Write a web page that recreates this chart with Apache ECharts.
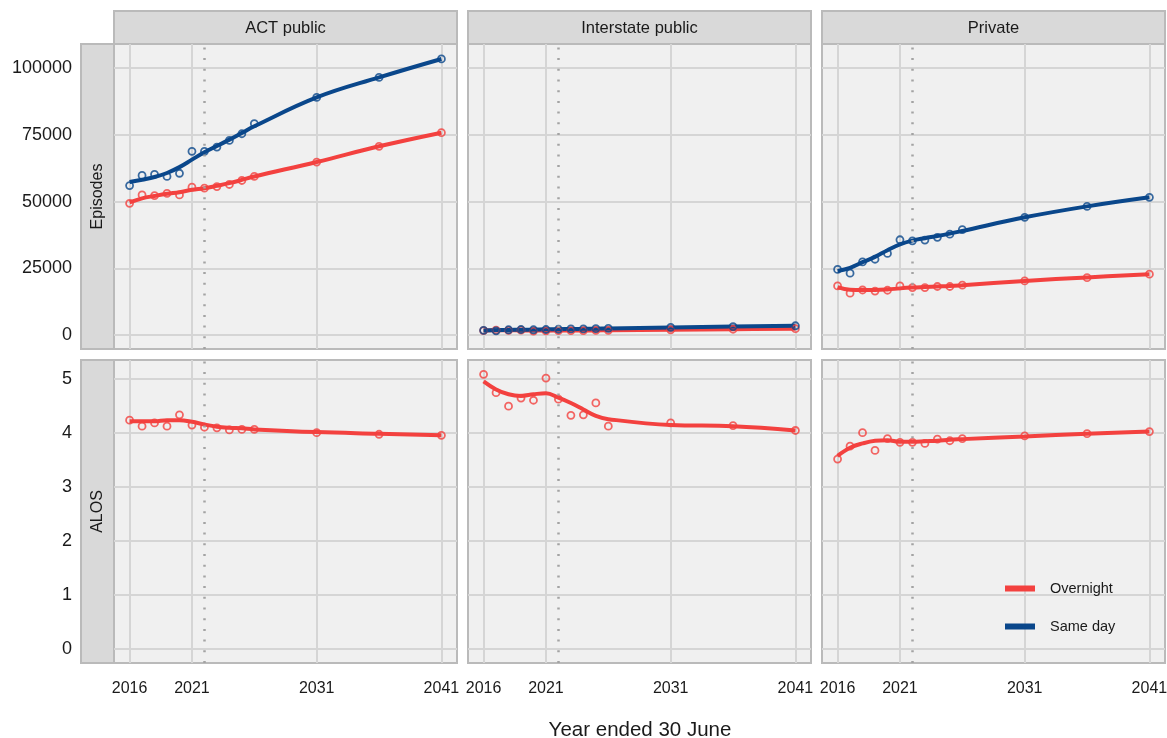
<!DOCTYPE html>
<html>
<head>
<meta charset="utf-8">
<script src="https://cdn.jsdelivr.net/npm/echarts@6/dist/echarts.min.js"></script>
<style>
  html, body { margin: 0; padding: 0; background: #fff; }
  #chart { width: 1167px; height: 738px; }
</style>
</head>
<body>
<div id="chart"></div>
<script>
// data
const years = [2016, 2017, 2018, 2019, 2020, 2021, 2022, 2023, 2024, 2025, 2026, 2031, 2036, 2041];
const xTicks = [2016, 2021, 2031, 2041];
const forecastStart = 2022;
const panelNames = ['ACT public', 'Interstate public', 'Private'];
const rowNames = ['Episodes', 'ALOS'];
const episodeTicks = [0, 25000, 50000, 75000, 100000];
const alosTicks = [0, 1, 2, 3, 4, 5];

// Episodes
const actOvernight = [49350, 52500, 52250, 53100, 52500, 55400, 55000, 55600, 56400, 57900, 59400, 64800, 70700, 75800];
const actOvernightFit = [49700, 51200, 52100, 52900, 53500, 54400, 55000, 55900, 56900, 58100, 59400, 64800, 70700, 75800];
const actSameDay = [56000, 59800, 60200, 59400, 60600, 68800, 68800, 70400, 72900, 75400, 79200, 89000, 96500, 103400];
const actSameDayFit = [57300, 58200, 59200, 60700, 62900, 65700, 68500, 70800, 73200, 75700, 78200, 89000, 96500, 103400];

const interOvernight = [1700, 1900, 1800, 1900, 1500, 1600, 1700, 1700, 1700, 1800, 1800, 2000, 2200, 2400];
const interOvernightFit = [1750, 1780, 1780, 1760, 1700, 1680, 1690, 1710, 1740, 1770, 1800, 2000, 2200, 2400];
const interSameDay = [1800, 1600, 2000, 2100, 2000, 2100, 2200, 2300, 2300, 2400, 2500, 2900, 3200, 3500];
const interSameDayFit = [1750, 1850, 1950, 2020, 2080, 2150, 2210, 2280, 2340, 2410, 2480, 2880, 3200, 3500];

const privOvernight = [18400, 15700, 16900, 16500, 16800, 18400, 17800, 17800, 18200, 18200, 18700, 20300, 21500, 22800];
const privOvernightFit = [18000, 17000, 16900, 16900, 17100, 17500, 17800, 18000, 18200, 18400, 18700, 20300, 21600, 22800];
const privSameDay = [24600, 23200, 27400, 28400, 30600, 35700, 35300, 35600, 36600, 37800, 39500, 44100, 48200, 51600];
const privSameDayFit = [24000, 25200, 27300, 29300, 31800, 34000, 35400, 36300, 37100, 38000, 39000, 44100, 48200, 51600];

// ALOS (overnight only)
const actAlos = [4.24, 4.13, 4.19, 4.13, 4.34, 4.15, 4.11, 4.10, 4.06, 4.07, 4.07, 4.01, 3.98, 3.96];
const actAlosFit = [4.22, 4.22, 4.22, 4.24, 4.24, 4.21, 4.16, 4.12, 4.10, 4.09, 4.07, 4.02, 3.99, 3.96];
const interAlos = [5.09, 4.75, 4.50, 4.65, 4.61, 5.02, 4.63, 4.33, 4.34, 4.56, 4.13, 4.19, 4.14, 4.05];
const interAlosFit = [4.96, 4.81, 4.72, 4.69, 4.72, 4.74, 4.66, 4.56, 4.44, 4.32, 4.26, 4.15, 4.13, 4.05];
const privAlos = [3.52, 3.76, 4.01, 3.68, 3.90, 3.83, 3.83, 3.81, 3.89, 3.86, 3.90, 3.95, 3.99, 4.03];
const privAlosFit = [3.58, 3.73, 3.81, 3.86, 3.87, 3.84, 3.84, 3.85, 3.86, 3.88, 3.89, 3.94, 3.99, 4.03];

const RED = '#f3413f';
const BLUE = '#0a478b';
const FONT = 'Liberation Sans, Arial, Helvetica, sans-serif';

// panel layout (px)
const colLeft = [114, 468, 822];
const colWidth = 343;
const rowTop = [44, 360];
const rowHeight = [305, 303];

const pairs = (ys) => years.map((y, i) => [y, ys[i]]);

// per panel: list of [points, fit, colour, name]
const panels = [
  [[actOvernight, actOvernightFit, RED, 'Overnight'], [actSameDay, actSameDayFit, BLUE, 'Same day']],
  [[interOvernight, interOvernightFit, RED, 'Overnight'], [interSameDay, interSameDayFit, BLUE, 'Same day']],
  [[privOvernight, privOvernightFit, RED, 'Overnight'], [privSameDay, privSameDayFit, BLUE, 'Same day']],
  [[actAlos, actAlosFit, RED, 'Overnight']],
  [[interAlos, interAlosFit, RED, 'Overnight']],
  [[privAlos, privAlosFit, RED, 'Overnight']]
];

const grid = [], xAxis = [], yAxis = [], series = [];
const graphic = [];

for (let r = 0; r < 2; r++) {
  for (let c = 0; c < 3; c++) {
    const i = r * 3 + c;
    grid.push({
      left: colLeft[c], top: rowTop[r], width: colWidth, height: rowHeight[r],
      outerBoundsMode: 'none', containLabel: false,
      show: true, backgroundColor: '#f0f0f0', borderColor: '#bababa', borderWidth: 2
    });
    xAxis.push({
      gridIndex: i, type: 'value', min: 2014.75, max: 2042.25,
      axisLine: { show: false },
      axisTick: { show: false, customValues: xTicks },
      axisLabel: {
        show: r === 1, customValues: xTicks, formatter: v => String(v),
        color: '#1a1a1a', fontSize: 16, fontFamily: FONT, margin: 18
      },
      splitLine: { show: true, lineStyle: { color: '#d5d5d5', width: 2 } }
    });
    const ticks = r === 0 ? episodeTicks : alosTicks;
    yAxis.push({
      gridIndex: i, type: 'value',
      min: r === 0 ? -5200 : -0.255, max: r === 0 ? 109000 : 5.355,
      axisLine: { show: false },
      axisTick: { show: false, customValues: ticks },
      axisLabel: {
        show: c === 0, customValues: ticks, formatter: v => String(v),
        color: '#1a1a1a', fontSize: 18, fontFamily: FONT, margin: 42
      },
      splitLine: { show: true, lineStyle: { color: '#d5d5d5', width: 2 } }
    });

    panels[i].forEach((s, k) => {
      series.push({
        name: s[3], type: 'line', xAxisIndex: i, yAxisIndex: i,
        data: pairs(s[1]), smooth: 0.4, symbol: 'circle', showSymbol: false,
        lineStyle: { color: s[2], width: 4 }, itemStyle: { color: s[2] },
        silent: true, z: 3,
        markLine: k === 0 ? {
          silent: true, symbol: 'none', label: { show: false },
          lineStyle: { color: '#a3a3a3', width: 2.5, type: [2, 8.7] },
          data: [{ xAxis: forecastStart }]
        } : undefined
      });
      series.push({
        name: s[3] + ' actual', type: 'scatter', xAxisIndex: i, yAxisIndex: i,
        data: pairs(s[0]), symbol: 'circle', symbolSize: 7,
        itemStyle: { color: 'rgba(0,0,0,0)', borderColor: s[2], borderWidth: 1.8 },
        silent: true, z: 4
      });
    });
  }
}

// column strips
panelNames.forEach((name, c) => {
  graphic.push({
    type: 'rect', shape: { x: colLeft[c], y: 11, width: colWidth, height: 33 },
    style: { fill: '#d9d9d9', stroke: '#bababa', lineWidth: 2 }
  });
  graphic.push({
    type: 'text', x: colLeft[c] + colWidth / 2, y: 28,
    style: { text: name, fill: '#1a1a1a', font: '16.5px ' + FONT, align: 'center', verticalAlign: 'middle' }
  });
});

// row strips
rowNames.forEach((name, r) => {
  graphic.push({
    type: 'rect', shape: { x: 81, y: rowTop[r], width: 33, height: rowHeight[r] },
    style: { fill: '#d9d9d9', stroke: '#bababa', lineWidth: 2 }
  });
  graphic.push({
    type: 'text', x: 98, y: rowTop[r] + rowHeight[r] / 2, rotation: Math.PI / 2,
    style: { text: name, fill: '#1a1a1a', font: '16px ' + FONT, align: 'center', verticalAlign: 'middle' }
  });
});

graphic.push({
  type: 'text', x: 640, y: 730,
  style: { text: 'Year ended 30 June', fill: '#1a1a1a', font: '20.5px ' + FONT, align: 'center', verticalAlign: 'middle' }
});

const option = {
  backgroundColor: '#ffffff',
  animation: false,
  grid, xAxis, yAxis, series, graphic,
  legend: {
    data: ['Overnight', 'Same day'],
    orient: 'vertical', left: 997, top: 576,
    itemWidth: 30, itemHeight: 6, itemGap: 23,
    lineStyle: { width: 6 },
    textStyle: { color: '#1a1a1a', fontSize: 14.5, fontFamily: FONT, padding: [0, 0, 0, 10] },
    selectedMode: false
  }
};

const myChart = echarts.init(document.getElementById('chart'));
myChart.setOption(option);
</script>
</body>
</html>
